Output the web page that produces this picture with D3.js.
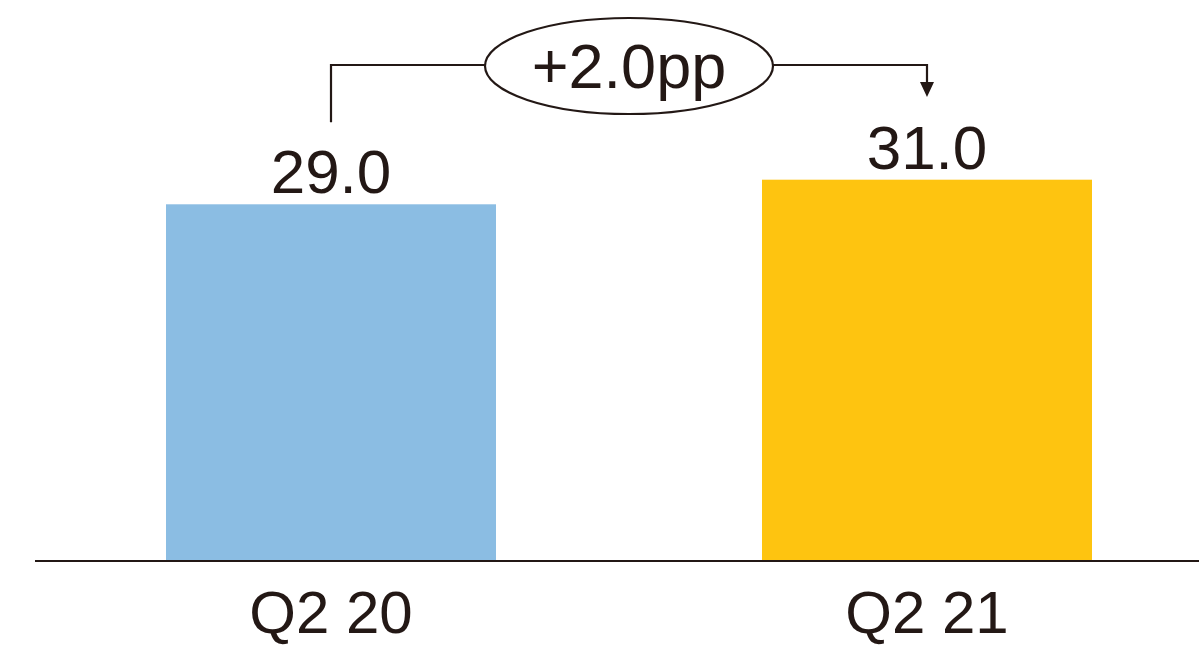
<!DOCTYPE html>
<html><head><meta charset="utf-8">
<script src="https://cdn.jsdelivr.net/npm/d3@7"></script>
<style>html,body{margin:0;padding:0;background:#fff;}svg{display:block;}</style>
</head><body>
<svg id="chart" width="1199" height="646"></svg>
<script>
const categories = ["Q2 20", "Q2 21"];
const values = [29.0, 31.0];
const colors = ["#8BBDE3", "#FEC410"];
const changeLabel = "+2.0pp";

const W = 1199, H = 646;
const ink = "#231815";
const font = "'Liberation Sans', Arial, sans-serif";
const svg = d3.select("#chart");

const x = d3.scaleBand().domain(categories).range([166, 1092]).paddingInner(0.4463).paddingOuter(0);
const y = d3.scaleLinear().domain([0, 40]).range([561, 69]);

svg.selectAll("rect.bar").data(values).join("rect")
  .attr("class", "bar")
  .attr("x", (d, i) => x(categories[i]))
  .attr("y", d => y(d))
  .attr("width", x.bandwidth())
  .attr("height", d => y(0) - y(d))
  .attr("fill", (d, i) => colors[i]);

// baseline
svg.append("line").attr("x1", 35).attr("x2", W).attr("y1", y(0)).attr("y2", y(0))
  .attr("stroke", ink).attr("stroke-width", 2);

// value labels
svg.selectAll("text.val").data(values).join("text")
  .attr("class", "val")
  .attr("x", (d, i) => x(categories[i]) + x.bandwidth() / 2)
  .attr("y", d => y(d) - 11)
  .attr("text-anchor", "middle")
  .attr("font-family", font).attr("font-size", 62)
  .attr("fill", ink)
  .text(d => d.toFixed(1));

// category labels
svg.selectAll("text.cat").data(categories).join("text")
  .attr("class", "cat")
  .attr("x", d => x(d) + x.bandwidth() / 2)
  .attr("y", 633)
  .attr("text-anchor", "middle")
  .attr("font-family", font).attr("font-size", 60)
  .attr("fill", ink)
  .text(d => d);

// change annotation bracket
const cx1 = x(categories[0]) + x.bandwidth() / 2;
const cx2 = x(categories[1]) + x.bandwidth() / 2;
const by = 65;
const ex = 629, erx = 144, ery = 48;
svg.append("path")
  .attr("d", `M${cx1},${y(values[0]) - 82} V${by} H${ex - erx}`)
  .attr("fill", "none").attr("stroke", ink).attr("stroke-width", 2.2);
svg.append("path")
  .attr("d", `M${ex + erx},${by} H${cx2} V${84}`)
  .attr("fill", "none").attr("stroke", ink).attr("stroke-width", 2.2);
svg.append("path")
  .attr("d", `M${cx2 - 7},${82} L${cx2 + 7},${82} L${cx2},${97} Z`)
  .attr("fill", ink);
svg.append("ellipse").attr("cx", ex).attr("cy", 66).attr("rx", erx).attr("ry", ery)
  .attr("fill", "#fff").attr("stroke", ink).attr("stroke-width", 2.2);
svg.append("text").attr("x", ex).attr("y", 88)
  .attr("text-anchor", "middle")
  .attr("font-family", font).attr("font-size", 63)
  .attr("fill", ink).text(changeLabel);
</script>
</body></html>
